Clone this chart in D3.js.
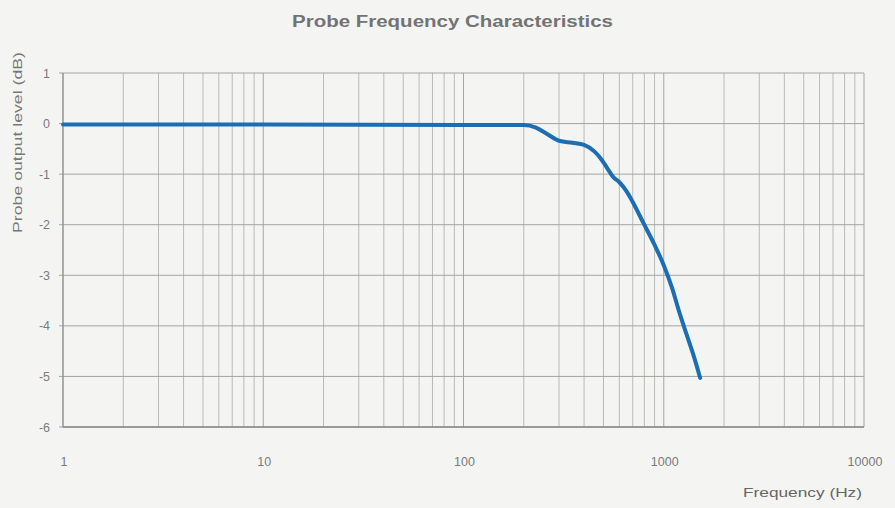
<!DOCTYPE html>
<html><head><meta charset="utf-8">
<script src="https://cdn.jsdelivr.net/npm/d3@7"></script>
<style>body{margin:0;background:#f4f5f3;}svg{display:block;}</style>
</head><body>
<script>
const freq = [1, 10, 100, 200, 230, 260, 300, 350, 400, 450, 480, 520, 560, 600, 650, 700, 790, 900, 1000, 1100, 1200, 1300, 1400, 1520];
const level = [-0.02, -0.02, -0.03, -0.03, -0.08, -0.2, -0.34, -0.38, -0.42, -0.55, -0.67, -0.87, -1.06, -1.16, -1.33, -1.55, -1.96, -2.4, -2.8, -3.25, -3.75, -4.17, -4.55, -5.03];
const yTicks = [1, 0, -1, -2, -3, -4, -5, -6];
const xTicks = [1, 10, 100, 1000, 10000];

const W = 895, H = 508;
const svg = d3.select("body").append("svg").attr("width", W).attr("height", H);
svg.append("rect").attr("width", W).attr("height", H).attr("fill", "#f4f5f3");

const x = d3.scaleLog().domain([1, 10000]).range([63, 864]);
const y = d3.scaleLinear().domain([-6, 1]).range([427, 73]);

// minor vertical grid
const minor = [];
for (let d = 1; d < 10000; d *= 10) for (let k = 2; k <= 9; k++) minor.push(d * k);
svg.append("g").selectAll("line").data(minor).join("line")
  .attr("x1", d => x(d)).attr("x2", d => x(d)).attr("y1", y(1)).attr("y2", y(-6))
  .attr("stroke", "#b9bbb8").attr("stroke-width", 1);
svg.append("g").selectAll("line").data(xTicks).join("line")
  .attr("x1", d => x(d)).attr("x2", d => x(d)).attr("y1", y(1)).attr("y2", y(-6))
  .attr("stroke", "#a5a7a4").attr("stroke-width", 1);
// horizontal grid
svg.append("g").selectAll("line").data(yTicks).join("line")
  .attr("x1", x(1) - 4).attr("x2", x(10000)).attr("y1", d => y(d)).attr("y2", d => y(d))
  .attr("stroke", "#a3a5a2").attr("stroke-width", 1);
// axes lines
svg.append("line").attr("x1", x(1)).attr("x2", x(1)).attr("y1", y(1)).attr("y2", y(-6)).attr("stroke", "#888a87");
svg.append("line").attr("x1", x(1)).attr("x2", x(10000)).attr("y1", y(-6)).attr("y2", y(-6)).attr("stroke", "#888a87").attr("stroke-width", 1.3);

const font = "Liberation Sans, Arial, sans-serif";
svg.append("g").selectAll("text").data(yTicks).join("text")
  .attr("x", 50).attr("y", d => y(d) + 4.5).attr("text-anchor", "end")
  .attr("font-family", font).attr("font-size", 12.5).attr("fill", "#7a7a7a")
  .text(d => d);
svg.append("g").selectAll("text").data(xTicks).join("text")
  .attr("x", d => x(d) + 1).attr("y", 466).attr("text-anchor", "middle")
  .attr("font-family", font).attr("font-size", 12.5).attr("fill", "#7a7a7a")
  .text(d => d);

svg.append("text").attr("x", 292).attr("y", 27)
  .attr("font-family", font).attr("font-size", 16).attr("font-weight", "bold").attr("fill", "#737373")
  .attr("textLength", 321).attr("lengthAdjust", "spacingAndGlyphs")
  .text("Probe Frequency Characteristics");
svg.append("text").attr("transform", "translate(22,233) rotate(-90)")
  .attr("font-family", font).attr("font-size", 12.5).attr("fill", "#777")
  .attr("textLength", 181).attr("lengthAdjust", "spacingAndGlyphs")
  .text("Probe output level (dB)");
svg.append("text").attr("x", 743).attr("y", 497)
  .attr("font-family", font).attr("font-size", 13).attr("fill", "#666")
  .attr("textLength", 119).attr("lengthAdjust", "spacingAndGlyphs")
  .text("Frequency (Hz)");

const line = d3.line().x((d, i) => x(freq[i])).y((d, i) => y(level[i])).curve(d3.curveMonotoneX);
svg.append("path").datum(level).attr("d", line).attr("fill", "none")
  .attr("stroke", "#1d6db3").attr("stroke-width", 4).attr("stroke-linecap", "round");
</script>
</body></html>
